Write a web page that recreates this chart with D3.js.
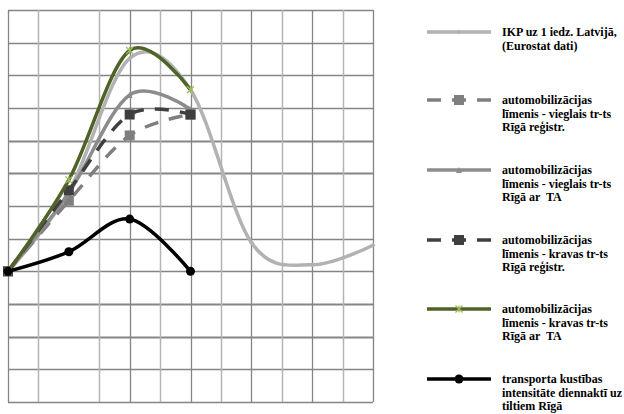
<!DOCTYPE html>
<html><head><meta charset="utf-8">
<script src="https://cdn.jsdelivr.net/npm/d3@7"></script>
<style>body{margin:0;background:#fff}svg{display:block}
.leg{font-family:"Liberation Serif","Times New Roman",serif;font-size:12px;font-weight:bold;white-space:pre}</style>
</head><body>
<svg id="c" width="624" height="414"></svg>
<script>
// categories (no axis labels are shown in the reference)
const categories = ["1","2","3","4","5","6","7"];
const ikp        = [100, 161, 263, 239, 122, 105, 120];
const vieglReg   = [100, 154, 204, 220];
const vieglTA    = [100, 160, 235, 224];
const kravaReg   = [100, 162, 220, 220];
const kravaTA    = [100, 170, 269, 239];
const transport  = [100, 115, 140, 100];
const yTicks = d3.range(0, 301, 25);

const legendLabels = [
  ["IKP uz 1 iedz. Latvijā,", "(Eurostat dati)"],
  ["automobilizācijas", "līmenis - vieglais tr-ts", "Rīgā reģistr."],
  ["automobilizācijas", "līmenis - vieglais tr-ts", "Rīgā ar  TA"],
  ["automobilizācijas", "līmenis - kravas tr-ts", "Rīgā reģistr."],
  ["automobilizācijas", "līmenis - kravas tr-ts", "Rīgā ar  TA"],
  ["transporta kustības", "intensitāte diennaktī uz", "tiltiem Rīgā"]
];

const series = [
  {values: ikp,       color: "#b2b2b2", dash: null,    marker: "diamond",  mcolor: "#b2b2b2", msize: 5},
  {values: vieglReg,  color: "#7f7f7f", dash: "14,11", marker: "square",   mcolor: "#7f7f7f", msize: 10},
  {values: vieglTA,   color: "#8c8c8c", dash: null,    marker: "triangle", mcolor: "#8c8c8c", msize: 6},
  {values: kravaReg,  color: "#3f3f3f", dash: "14,11", marker: "square",   mcolor: "#3f3f3f", msize: 10},
  {values: kravaTA,   color: "#4f6228", dash: null,    marker: "x",        mcolor: "#9bbb59", msize: 7},
  {values: transport, color: "#000000", dash: null,    marker: "circle",   mcolor: "#000000", msize: 9}
];

const svg = d3.select("#c");
const L = 8, R = 373, T = 10, B = 402;
const x = d3.scalePoint().domain(categories).range([L, R]);
const y = d3.scaleLinear().domain([0, 300]).range([B, T]);
const step = x.step();

// grid
const g = svg.append("g");
yTicks.forEach((t, i) => {
  const thick = (t === 50 || t === 75 || t === 175 || t === 200);
  g.append("line").attr("x1", L).attr("x2", R)
    .attr("y1", Math.round(y(t)) + 0.5).attr("y2", Math.round(y(t)) + 0.5)
    .attr("stroke", "#858585").attr("stroke-width", thick ? 2 : 1.3);
});
categories.forEach((c, i) => {
  if (i !== 1) {
    g.append("line").attr("x1", Math.round(x(c)) + 0.5).attr("x2", Math.round(x(c)) + 0.5)
      .attr("y1", T).attr("y2", B).attr("stroke", "#858585").attr("stroke-width", 1.3);
  }
  if (i < categories.length - 1) {
    const xm = Math.round(x(c) + step / 2) + 0.5;
    g.append("line").attr("x1", xm).attr("x2", xm)
      .attr("y1", T).attr("y2", B).attr("stroke", "#b4b4b4").attr("stroke-width", 1.5);
  }
});

function markerPath(type, s) {
  const h = s / 2;
  switch (type) {
    case "square": return `M${-h},${-h}h${s}v${s}h${-s}Z`;
    case "diamond": return `M0,${-h}L${h},0L0,${h}L${-h},0Z`;
    case "triangle": return `M0,${-h}L${h},${h}L${-h},${h}Z`;
    case "x": return `M${-h},${-h}L${h},${h}M${h},${-h}L${-h},${h}M0,${-h}L0,${h}`;
    case "circle": return d3.symbol(d3.symbolCircle, Math.PI * h * h)();
  }
}
function drawMarker(sel, s, cx, cy) {
  const p = sel.append("path").attr("d", markerPath(s.marker, s.msize))
    .attr("transform", `translate(${cx},${cy})`);
  if (s.marker === "x") p.attr("fill", "none").attr("stroke", s.mcolor).attr("stroke-width", 1.2);
  else p.attr("fill", s.mcolor).attr("stroke", "none");
}

const line = d3.line()
  .x((d, i) => x(categories[i]))
  .y(d => y(d))
  .curve(d3.curveCardinal.tension(0));

series.forEach(s => {
  svg.append("path").datum(s.values)
    .attr("d", line).attr("fill", "none")
    .attr("stroke", s.color).attr("stroke-width", 3.5)
    .attr("stroke-dasharray", s.dash)
    .attr("stroke-linejoin", "round");
  s.values.forEach((v, i) => drawMarker(svg, s, x(categories[i]), y(v)));
});

// legend
const lg = svg.append("g");
const legY = [32, 100, 170, 240, 309, 379];
series.forEach((s, k) => {
  const yy = legY[k];
  lg.append("line").attr("x1", 427).attr("x2", 491).attr("y1", yy).attr("y2", yy)
    .attr("stroke", s.color).attr("stroke-width", 3.5).attr("stroke-dasharray", s.dash);
  drawMarker(lg, s, 459, yy);
  const tx = lg.append("text").attr("class", "leg").attr("x", 502).attr("y", yy + 4)
    .attr("fill", "#000");
  legendLabels[k].forEach((t, j) => {
    tx.append("tspan").attr("x", 502).attr("dy", j === 0 ? 0 : 13.5).text(t);
  });
});
</script>
</body></html>
